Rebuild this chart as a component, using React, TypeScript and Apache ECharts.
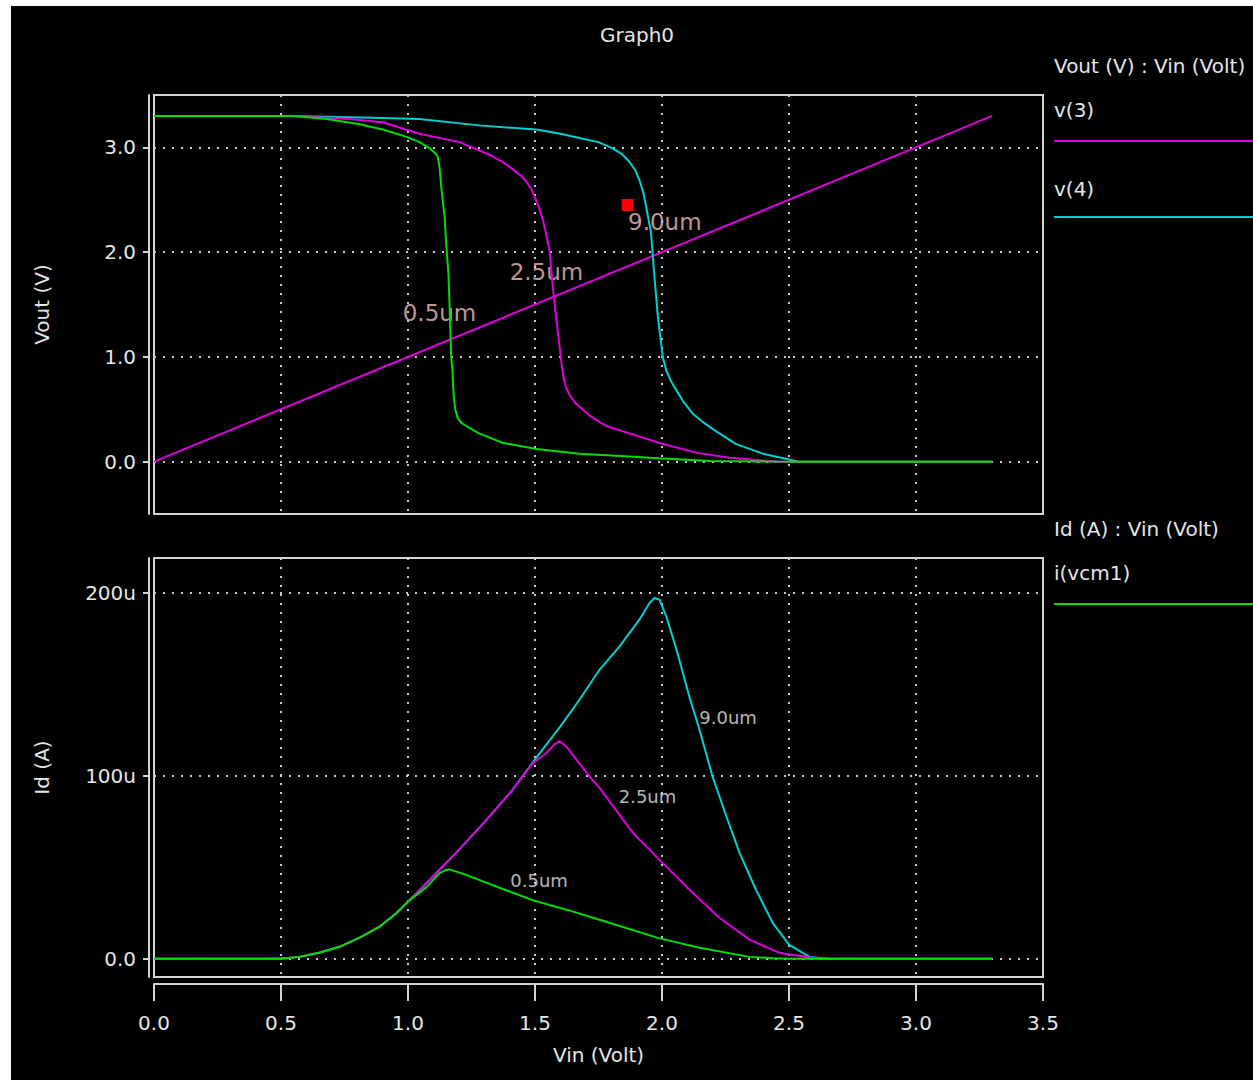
import React, { useEffect, useRef } from "react";
import * as echarts from "echarts";

// ---------- data (Vin in volts; Vout in volts; Id in µA) ----------
const vinRamp = [[0, 0], [3.3, 3.3]];

const vout05 = [
  [0, 3.3], [0.55, 3.3], [0.68, 3.27], [0.81, 3.22], [0.9, 3.17], [0.994, 3.1], [1.045, 3.05],
  [1.085, 2.99], [1.105, 2.95], [1.116, 2.92], [1.124, 2.82], [1.131, 2.62], [1.144, 2.34],
  [1.15, 2.09], [1.159, 1.8], [1.163, 1.54], [1.17, 1.0], [1.175, 0.87], [1.18, 0.62],
  [1.186, 0.5], [1.195, 0.42], [1.21, 0.37], [1.23, 0.34], [1.28, 0.27], [1.372, 0.18],
  [1.505, 0.12], [1.675, 0.076], [1.872, 0.048], [2.0, 0.029], [2.19, 0.005], [2.5, 0], [3.3, 0],
];

const vout25 = [
  [0, 3.3], [0.55, 3.3], [0.77, 3.27], [0.9, 3.24], [1.045, 3.13], [1.203, 3.05], [1.32, 2.93],
  [1.38, 2.85], [1.413, 2.79], [1.445, 2.73], [1.47, 2.66], [1.486, 2.6], [1.498, 2.53],
  [1.515, 2.43], [1.531, 2.31], [1.557, 2.02], [1.57, 1.67], [1.583, 1.38], [1.603, 0.97],
  [1.608, 0.87], [1.615, 0.77], [1.623, 0.7], [1.64, 0.62], [1.663, 0.55], [1.715, 0.44],
  [1.78, 0.34], [1.872, 0.27], [2.0, 0.17], [2.135, 0.086], [2.265, 0.038], [2.397, 0.01],
  [2.45, 0], [3.3, 0],
];

const vout90 = [
  [0, 3.3], [0.55, 3.3], [0.9, 3.28], [1.045, 3.27], [1.28, 3.21], [1.505, 3.17], [1.6, 3.13],
  [1.675, 3.09], [1.75, 3.05], [1.806, 2.99], [1.845, 2.93], [1.872, 2.86], [1.895, 2.78],
  [1.911, 2.69], [1.926, 2.57], [1.938, 2.43], [1.957, 2.18], [1.97, 1.77], [1.984, 1.38],
  [2.003, 1.0], [2.017, 0.87], [2.035, 0.77], [2.057, 0.68], [2.085, 0.57], [2.12, 0.46],
  [2.16, 0.38], [2.2, 0.31], [2.29, 0.17], [2.397, 0.076], [2.5, 0.02], [2.54, 0], [3.3, 0],
];

const id05 = [
  [0, 0], [0.494, 0], [0.573, 1], [0.65, 3.3], [0.73, 6.5], [0.81, 11.5], [0.888, 17.5],
  [0.955, 25], [1.006, 32], [1.072, 39], [1.124, 46.8], [1.15, 48.5], [1.163, 48.8],
  [1.229, 45.8], [1.36, 38.8], [1.49, 32], [1.624, 26.8], [1.754, 21.3], [1.99, 11.1],
  [2.148, 6], [2.345, 1], [2.435, 0.3], [2.5, 0], [3.3, 0],
];

const id25 = [
  [0, 0], [0.494, 0], [0.573, 1], [0.65, 3.3], [0.73, 6.5], [0.81, 11.5], [0.888, 17.5],
  [0.955, 25], [1.006, 32], [1.085, 43], [1.19, 58], [1.31, 76], [1.41, 92], [1.491, 106.8],
  [1.544, 112.3], [1.575, 117], [1.596, 119], [1.623, 116], [1.715, 99.5], [1.754, 93.4],
  [1.884, 69], [1.99, 54], [2.108, 37.7], [2.226, 22.4], [2.345, 10.4], [2.46, 3.3],
  [2.59, 0.5], [2.65, 0], [3.3, 0],
];

const id90 = [
  [0, 0], [0.494, 0], [0.573, 1], [0.65, 3.3], [0.73, 6.5], [0.81, 11.5], [0.888, 17.5],
  [0.955, 25], [1.006, 32], [1.085, 43], [1.19, 58], [1.31, 76], [1.41, 92], [1.506, 110],
  [1.6, 127], [1.675, 141.5], [1.754, 157.9], [1.833, 170.7], [1.911, 185.3], [1.951, 194.4],
  [1.97, 197.1], [1.99, 196.2], [2.017, 187], [2.057, 169], [2.108, 143], [2.148, 125],
  [2.199, 99.5], [2.254, 77.6], [2.305, 58], [2.37, 37.7], [2.435, 19.7], [2.5, 7.7],
  [2.58, 1], [2.66, 0], [3.3, 0],
];

const upperNotes = [
  { value: [1.124, 1.42], name: "0.5um" },
  { value: [1.545, 1.815], name: "2.5um" },
  { value: [2.011, 2.29], name: "9.0um" },
];
const lowerNotes = [
  { value: [2.26, 131.8], name: "9.0um" },
  { value: [1.943, 88.6], name: "2.5um" },
  { value: [1.516, 43], name: "0.5um" },
];
const cursorMark = [[1.865, 2.45]];

const xTickValues = [0, 0.5, 1, 1.5, 2, 2.5, 3, 3.5];
const voutTicks = [0, 1, 2, 3];
const idTicks = [0, 100, 200];

// ---------- styles ----------
const GREEN = "#00dd00";
const MAGENTA = "#dd00dd";
const CYAN = "#00d0d0";
const FG = "#e6e6e6";
const BOX = "#d4d4d4";
const GRIDC = "#c8c8c8";
const PINK = "#f2c0c0";
const FONT = "DejaVu Sans";

const dotted = { color: GRIDC, width: 2, type: [2, 7] as number[] };

export default function App() {
  const ref = useRef<HTMLDivElement>(null);
  useEffect(() => {
    if (!ref.current) return;
    const chart = echarts.init(ref.current, null, { renderer: "svg" });
    const lineSeries = (data: number[][], color: string, idx: number) => ({
      type: "line",
      xAxisIndex: idx,
      yAxisIndex: idx,
      data,
      showSymbol: false,
      symbol: "none",
      lineStyle: { color, width: 2 },
      silent: true,
    });
    const noteSeries = (data: any[], idx: number, color: string, size: number) => ({
      type: "scatter",
      xAxisIndex: idx,
      yAxisIndex: idx,
      data,
      symbolSize: 0,
      silent: true,
      label: {
        show: true,
        position: "inside",
        formatter: (p: any) => p.name,
        color,
        fontFamily: FONT,
        fontSize: size,
      },
    });
    const yCommon = {
      position: "left",
      offset: 5,
      axisLine: { show: true, onZero: false, lineStyle: { color: BOX, width: 2 } },
      axisTick: { show: true, inside: false, length: 6, lineStyle: { color: BOX, width: 2 } },
      splitLine: { show: true, lineStyle: dotted },
      nameLocation: "middle",
      nameGap: 97,
      nameTextStyle: { color: FG, fontFamily: FONT, fontSize: 20 },
    };
    chart.setOption({
      animation: false,
      backgroundColor: "#000000",
      title: {
        text: "Graph0",
        left: 600,
        top: 25,
        padding: 0,
        textStyle: { color: FG, fontFamily: FONT, fontSize: 20, fontWeight: "normal" },
      },
      grid: [
        { left: 154, top: 95, width: 889, height: 419, show: true, borderColor: BOX, borderWidth: 2, backgroundColor: "transparent" },
        { left: 154, top: 558, width: 889, height: 419, show: true, borderColor: BOX, borderWidth: 2, backgroundColor: "transparent" },
      ],
      xAxis: [
        {
          type: "value", gridIndex: 0, min: 0, max: 3.5, interval: 0.5,
          axisLine: { show: false }, axisTick: { show: false }, axisLabel: { show: false },
          splitLine: { show: true, showMinLine: false, showMaxLine: false, lineStyle: dotted },
        },
        {
          type: "value", gridIndex: 1, min: 0, max: 3.5, interval: 0.5,
          position: "bottom", offset: 7,
          axisLine: { show: true, onZero: false, lineStyle: { color: BOX, width: 2 } },
          axisTick: { show: true, inside: false, length: 17, lineStyle: { color: BOX, width: 2 } },
          axisLabel: {
            show: true, margin: 29, color: FG, fontFamily: FONT, fontSize: 20,
            formatter: (v: number) => v.toFixed(1),
          },
          splitLine: { show: true, showMinLine: false, showMaxLine: false, lineStyle: dotted },
          name: "Vin (Volt)",
          nameLocation: "middle",
          nameGap: 61,
          nameTextStyle: { color: FG, fontFamily: FONT, fontSize: 20 },
        },
      ],
      yAxis: [
        {
          ...yCommon,
          type: "value", gridIndex: 0, min: -0.5, max: 3.5, splitNumber: 4,
          name: "Vout (V)",
          axisTick: { ...yCommon.axisTick, customValues: voutTicks },
          axisLabel: {
            show: true, margin: 13, color: FG, fontFamily: FONT, fontSize: 20,
            customValues: voutTicks,
            formatter: (v: number) => v.toFixed(1),
          },
        },
        {
          ...yCommon,
          type: "value", gridIndex: 1, min: -10, max: 219, splitNumber: 2,
          name: "Id (A)",
          axisTick: { ...yCommon.axisTick, customValues: idTicks },
          axisLabel: {
            show: true, margin: 13, color: FG, fontFamily: FONT, fontSize: 20,
            customValues: idTicks,
            formatter: (v: number) => (v === 0 ? "0.0" : v + "u"),
          },
        },
      ],
      series: [
        lineSeries(vinRamp, MAGENTA, 0),
        lineSeries(vout90, CYAN, 0),
        lineSeries(vout25, MAGENTA, 0),
        lineSeries(vout05, GREEN, 0),
        lineSeries(id90, CYAN, 1),
        lineSeries(id25, MAGENTA, 1),
        lineSeries(id05, GREEN, 1),
        noteSeries(upperNotes, 0, PINK, 23),
        noteSeries(lowerNotes, 1, FG, 18),
        {
          type: "scatter",
          xAxisIndex: 0,
          yAxisIndex: 0,
          data: cursorMark,
          symbol: "rect",
          symbolSize: 12,
          itemStyle: { color: "#ff0000", opacity: 1 },
          silent: true,
        },
      ],
      graphic: [
        { type: "rect", shape: { x: 0, y: 0, width: 11, height: 1080 }, style: { fill: "#ffffff" }, silent: true },
        { type: "rect", shape: { x: 0, y: 0, width: 1253, height: 6 }, style: { fill: "#ffffff" }, silent: true },
        { type: "text", x: 1054, y: 66, style: { text: "Vout (V) : Vin (Volt)", fill: FG, font: `20px "${FONT}"`, verticalAlign: "middle" } },
        { type: "text", x: 1054, y: 110, style: { text: "v(3)", fill: FG, font: `20px "${FONT}"`, verticalAlign: "middle" } },
        { type: "line", shape: { x1: 1054, y1: 141, x2: 1253, y2: 141 }, style: { stroke: MAGENTA, lineWidth: 2 } },
        { type: "text", x: 1054, y: 189, style: { text: "v(4)", fill: FG, font: `20px "${FONT}"`, verticalAlign: "middle" } },
        { type: "line", shape: { x1: 1054, y1: 217, x2: 1253, y2: 217 }, style: { stroke: CYAN, lineWidth: 2 } },
        { type: "text", x: 1054, y: 529, style: { text: "Id (A) : Vin (Volt)", fill: FG, font: `20px "${FONT}"`, verticalAlign: "middle" } },
        { type: "text", x: 1054, y: 573, style: { text: "i(vcm1)", fill: FG, font: `20px "${FONT}"`, verticalAlign: "middle" } },
        { type: "line", shape: { x1: 1054, y1: 604, x2: 1253, y2: 604 }, style: { stroke: GREEN, lineWidth: 2 } },
      ],
    });
    return () => chart.dispose();
  }, []);
  return (
    <div
      ref={ref}
      style={{ position: "fixed", left: 0, top: 0, width: 1253, height: 1080 }}
    />
  );
}
